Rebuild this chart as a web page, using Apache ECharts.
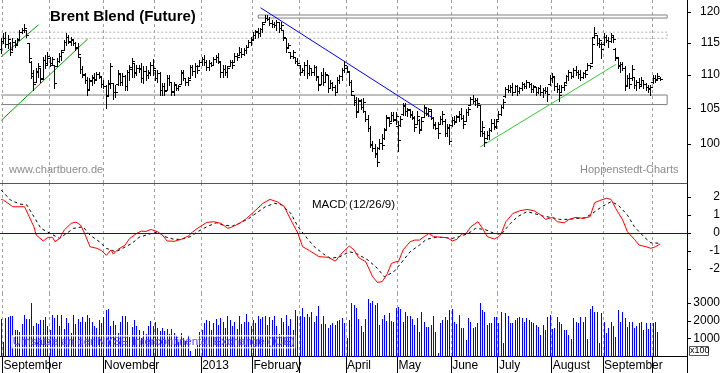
<!DOCTYPE html>
<html><head><meta charset="utf-8">
<script src="https://cdn.jsdelivr.net/npm/echarts@6/dist/echarts.min.js"></script>
<style>html,body{margin:0;padding:0;background:#fff}#c{width:723px;height:373px}</style>
</head><body><div id="c"></div>
<script>
// ---------- calendar ----------
const firstDay = '2012-08-31';
const lastAxisDay = '2013-10-21';
const holidays = ['2012-12-25', '2013-01-01', '2013-03-29'];
const labelMonths = ['2012-09', '2012-11', '2013-01', '2013-02', '2013-04', '2013-05', '2013-06', '2013-07', '2013-08', '2013-09'];
const monthNames = ['January', 'February', 'March', 'April', 'May', 'June', 'July', 'August', 'September', 'October', 'November', 'December'];

// ---------- axis ticks ----------
const priceTicks = [100, 105, 110, 115, 120];
const macdTicks = [-2, -1, 0, 1, 2];
const volumeTicks = [1000, 2000, 3000];

// ---------- daily OHLC (USD) ----------
const open = [
114.0,115.3,115.8,114.8,115.0,114.0,115.2,114.8,115.6,116.8,
117.0,117.1,115.0,112.0,109.8,108.9,110.5,111.1,109.6,112.3,
111.8,112.6,111.8,111.5,111.3,112.2,112.9,113.9,115.2,115.9,
115.2,115.4,115.0,114.4,112.8,110.9,110.0,109.3,107.9,109.1,
109.6,109.4,110.2,109.7,108.6,108.3,106.9,108.6,108.8,107.4,
108.6,110.2,109.0,109.8,108.3,110.4,110.9,111.8,110.4,111.1,
111.0,109.5,110.6,110.0,110.3,111.6,110.8,109.6,110.3,107.8,
108.4,107.8,109.6,109.0,107.5,108.5,108.1,108.6,110.3,109.6,
108.9,109.5,111.2,110.6,111.3,111.3,112.0,112.5,112.0,111.2,
111.8,111.6,112.4,112.7,112.0,110.4,110.9,110.5,111.3,112.0,
112.05,113.0,113.1,113.6,113.2,113.8,114.4,115.2,115.6,116.3,
116.8,116.6,117.2,118.35,119.0,118.9,118.2,118.0,117.8,118.3,
117.3,117.1,115.8,114.3,113.6,113.0,112.8,112.2,111.5,110.5,
110.8,111.5,110.3,111.0,110.4,111.2,109.7,108.6,110.0,109.0,
110.0,108.1,108.8,108.2,107.5,109.3,109.8,110.7,111.1,110.5,
108.9,107.0,106.2,104.6,106.1,105.2,104.6,103.5,102.2,99.9,
99.4,98.8,99.4,100.2,100.8,102.05,103.7,103.2,104.1,103.5,
102.5,102.6,104.2,105.4,104.6,104.8,104.2,103.7,102.75,103.4,
102.05,103.8,105.1,104.4,104.7,103.7,102.8,102.3,102.8,103.5,
103.3,101.6,102.3,102.6,103.4,103.2,103.8,104.2,103.7,103.2,
104.5,105.6,106.4,106.1,106.3,105.6,101.8,101.5,100.9,101.2,
102.0,103.0,102.5,103.5,104.3,105.3,106.8,107.9,107.7,108.2,
107.5,108.3,107.6,108.0,108.6,108.4,109.0,108.6,107.9,108.2,
107.5,108.0,107.4,107.8,107.6,108.6,109.6,109.7,108.3,107.9,
107.5,108.2,108.9,109.8,110.4,109.9,110.8,110.5,110.2,109.7,
110.3,110.8,111.5,111.9,115.9,116.2,115.0,114.8,114.8,115.9,
115.5,115.3,116.0,114.0,112.6,111.5,111.7,111.0,108.55,109.5,
109.6,109.7,108.5,108.9,108.6,109.3,108.6,108.2,108.0,108.9,
109.6,109.4,109.6];
const high = [
115.8,116.6,116.7,116.3,115.2,115.8,115.5,115.8,117.1,117.4,
118.0,117.1,115.0,112.1,110.8,111.0,111.9,111.1,112.8,113.1,
113.6,112.8,112.8,111.6,112.6,113.4,113.9,115.5,116.6,116.3,
115.95,115.5,115.2,115.0,112.8,111.3,110.35,109.75,109.6,110.05,
110.35,110.5,110.5,109.75,109.3,108.55,109.3,111.9,108.85,108.55,
110.8,110.35,110.35,110.05,110.8,111.6,112.65,111.9,111.6,111.6,
111.9,111.3,111.3,110.8,112.05,112.5,110.8,110.8,110.5,108.85,
108.85,110.05,110.05,109.0,109.0,108.55,108.55,110.8,110.8,109.6,
109.75,111.6,111.6,111.9,111.6,112.35,112.8,113.1,112.35,112.35,
112.05,112.8,113.1,113.4,112.05,111.6,111.6,111.3,112.35,112.35,
113.4,113.4,114.4,114.2,114.2,114.7,115.5,115.95,116.75,117.1,
117.4,117.4,118.35,119.5,119.5,119.2,118.7,118.35,118.7,118.35,
118.35,117.1,115.8,115.0,113.6,113.9,112.8,112.65,111.6,111.1,
112.05,112.35,111.6,111.1,111.6,111.3,109.75,110.5,111.1,110.5,
110.05,109.3,109.0,108.55,109.75,110.05,111.1,112.2,111.3,110.5,
109.3,107.05,106.75,106.6,106.35,106.6,104.6,104.15,102.5,100.4,
99.95,99.55,100.65,101.35,102.3,104.15,103.75,104.45,104.45,104.45,
103.2,103.9,105.9,105.9,105.15,104.9,104.6,103.9,104.6,103.45,
103.75,105.6,105.3,105.15,104.9,103.75,103.05,103.05,103.9,104.6,
103.45,102.75,102.75,103.75,103.9,104.15,104.6,105.15,104.15,104.9,
105.3,106.75,107.05,106.6,106.6,105.6,103.2,101.75,101.75,102.3,
103.45,103.45,103.45,104.6,105.6,106.35,108.25,108.55,108.55,108.85,
108.55,108.55,108.25,109.0,108.85,109.3,109.0,108.85,108.55,108.25,
108.25,108.55,108.1,108.25,108.25,110.05,110.35,109.75,108.85,108.55,
108.55,108.85,110.05,110.8,110.5,111.1,111.3,110.8,110.8,110.5,
110.8,111.9,111.6,115.8,117.5,116.3,115.8,115.2,116.6,116.3,
115.95,116.6,116.3,114.2,112.8,112.05,112.05,111.3,110.05,110.35,
111.6,109.75,109.3,109.6,109.75,109.3,108.85,108.55,108.55,110.05,
110.05,110.35,109.75];
const low = [
113.4,115.0,114.4,114.2,113.1,113.9,114.4,114.7,115.5,116.6,
116.7,115.9,112.0,109.6,107.8,108.9,109.7,109.0,109.4,111.1,
111.5,111.3,111.6,108.1,111.3,112.0,112.3,113.9,114.7,115.0,
114.7,114.7,113.9,112.8,110.35,109.75,108.85,107.05,107.9,108.55,
108.85,109.3,109.6,108.25,108.1,105.15,106.9,108.1,106.35,106.75,
108.55,108.55,108.55,107.8,107.8,109.3,109.75,109.75,110.05,110.5,
109.0,108.85,109.3,109.6,110.05,110.05,109.3,109.0,107.05,107.05,
107.05,107.8,108.55,107.05,107.05,107.8,107.8,108.6,109.3,108.55,
108.55,109.5,110.05,109.75,110.35,111.3,111.6,111.6,110.8,110.8,
111.3,111.6,112.05,111.9,109.75,109.75,110.05,109.75,111.3,111.1,
112.05,112.35,113.1,112.8,113.1,113.4,114.4,114.7,115.5,115.8,
115.95,116.1,116.75,118.35,118.7,117.9,117.55,117.55,117.1,116.75,
117.1,115.5,113.6,114.2,112.65,112.65,111.9,111.6,110.05,110.5,
110.05,109.6,110.05,110.05,110.05,109.3,107.8,108.6,108.55,109.0,
107.5,108.1,107.8,107.05,107.5,108.85,109.3,110.5,110.5,108.55,
107.05,105.6,103.75,104.6,104.9,104.45,103.2,101.75,99.55,99.0,
98.2,97.0,99.3,99.3,100.65,102.05,102.5,103.2,103.2,102.75,
99.0,102.5,104.15,104.15,103.9,103.75,103.45,101.75,102.75,101.6,
102.05,103.75,104.15,103.9,103.45,102.3,102.05,100.9,102.75,102.75,
101.05,101.05,99.95,102.5,102.75,103.05,103.2,103.45,102.3,103.2,
104.15,105.6,105.9,105.6,105.3,101.05,101.05,99.7,100.65,100.65,
101.75,102.05,102.3,103.45,104.15,105.15,106.75,107.5,107.5,107.05,
107.5,107.05,107.35,107.8,108.1,108.1,108.25,107.5,107.5,107.05,
107.35,107.05,106.75,107.35,106.05,108.55,109.0,107.8,107.5,106.05,
107.5,107.8,108.85,109.3,109.6,109.75,110.05,109.6,109.3,109.6,
109.75,110.8,111.1,111.9,115.8,114.7,114.4,112.65,114.7,115.2,
114.4,115.2,115.2,112.35,111.1,110.5,110.8,107.8,108.55,108.1,
109.3,108.1,107.8,108.1,108.55,108.1,107.8,107.5,107.05,108.85,
109.0,109.3,109.3];
const close = [
115.3,115.8,114.8,115.6,113.6,115.2,114.7,115.5,116.8,117.0,
117.4,116.2,112.6,110.3,108.6,110.6,111.4,109.4,112.3,111.5,
113.0,111.6,112.4,108.8,112.2,113.0,113.5,115.1,115.9,115.3,
115.6,115.0,114.2,113.3,110.9,110.2,109.2,107.8,109.2,109.7,
109.3,110.2,109.8,108.7,108.4,107.0,108.8,111.4,107.4,107.5,
110.3,109.0,109.8,108.3,110.4,111.2,112.2,110.3,111.1,110.9,
109.6,110.6,110.0,110.4,111.6,111.0,109.6,110.3,107.8,108.3,
107.6,109.6,108.9,107.6,108.7,108.1,108.4,110.4,109.6,108.9,
109.3,111.2,110.6,111.3,110.8,112.0,112.5,112.0,111.2,111.9,
111.6,112.4,112.7,112.1,110.4,110.9,110.5,111.0,112.0,111.5,
113.0,112.8,113.6,113.2,113.8,114.3,115.2,115.5,116.3,116.9,
116.6,117.2,118.0,119.0,118.9,118.2,118.0,117.8,118.3,117.3,
117.9,116.0,114.2,114.6,113.0,113.6,112.2,111.8,110.4,110.8,
111.5,110.3,111.0,110.4,111.2,109.8,108.5,110.0,109.0,110.1,
108.0,108.8,108.2,107.4,109.3,109.8,110.7,111.6,110.6,109.0,
107.6,106.0,104.5,106.2,105.2,106.0,103.5,102.2,100.0,99.4,
98.6,97.6,100.2,99.8,101.9,103.8,102.9,104.1,103.4,104.0,
100.5,103.5,105.6,104.6,104.9,104.1,103.8,102.4,104.0,102.0,
103.3,105.2,104.4,104.9,103.7,102.7,102.3,101.5,103.5,104.2,
101.6,102.4,100.4,103.4,103.1,103.9,104.2,103.7,102.8,104.5,
105.0,106.4,106.1,106.3,105.8,101.8,102.4,100.3,101.3,101.9,
103.0,102.4,103.2,104.3,105.3,106.0,107.9,107.7,108.2,107.4,
108.3,107.6,108.1,108.6,108.4,109.0,108.6,107.9,108.3,107.5,
108.0,107.4,107.8,107.6,107.1,109.6,109.9,108.3,107.9,107.0,
108.2,108.5,109.8,110.4,109.9,110.8,110.5,110.2,109.7,110.3,
110.1,111.6,111.3,114.8,116.6,115.0,115.5,114.0,116.0,115.5,
115.3,116.2,115.6,112.7,111.4,111.7,111.0,108.4,109.5,108.6,
110.9,108.5,108.9,108.3,109.3,108.6,108.2,107.9,108.2,109.6,
109.3,109.9,109.4];

// ---------- daily volume (x100 contracts) ----------
const volume = [
2130,830,2150,2240,2270,2270,1490,1490,1400,1800,
2330,2130,2130,2990,1700,1900,1850,2050,2050,2240,
1700,1490,2350,2150,2350,1700,2350,1550,2150,1900,
1300,2350,1800,2100,1950,2240,1950,2330,2150,1950,
1700,1600,2050,1900,2240,2620,2650,1700,2000,1750,
1300,1950,2300,2300,1950,1100,1650,2050,1700,1500,
1050,1450,1250,1700,2000,1700,1950,1600,1450,1600,
1450,1550,1250,1550,1300,1150,800,1300,1050,850,
1200,300,null,400,650,1400,1500,1900,2050,2000,
1500,1900,2100,1750,2150,1950,1600,2300,2050,1700,
1950,1550,2250,1800,1950,2400,1950,1700,2050,1900,
2300,2100,2200,2300,1750,2200,2050,2250,1700,1250,
2150,1950,2350,1700,2100,1500,2600,2250,2300,2700,
2200,2400,2200,2500,1950,2250,2850,1850,2300,1850,
1600,1770,1870,1770,2000,2050,2150,1870,1020,2050,
2990,2900,2710,2100,1710,1400,2100,3250,2990,3130,
2900,3030,1770,2100,2330,2000,2430,2000,1950,2750,
2800,2650,1950,2520,2270,2270,2100,1770,2150,1400,
2480,1920,1670,1670,1750,2270,1400,180,1900,2050,
2240,2050,2610,2650,1950,1800,2330,1580,1580,930,
2150,1950,1580,1670,1870,2990,2610,2520,1770,1900,
1870,2240,2240,1870,2480,740,2430,2270,1900,1900,
2050,2150,2240,2150,1950,2150,2050,1950,1900,1770,
1670,1200,1770,1490,2240,2330,1530,1580,2240,1950,
1800,1490,1490,1200,960,2150,1950,1900,2240,1950,
2240,960,2650,2840,2520,2480,780,2430,1950,1300,
1580,1950,1710,1110,2610,1950,2480,2150,1670,1950,
1950,1580,1710,1870,1950,1490,1870,1530,1900,1870,
1950,1400,null];

// ---------- MACD (12/26/9): [trading-day index, value] ----------
const macd = [[0,1.87],[1,1.83],[5,1.46],[10,1.46],[12,0.91],[14,0.35],[15,-0.11],[18,-0.44],[20,-0.24],[22,-0.24],[23,-0.48],[25,-0.30],[27,0.17],[30,0.54],[32,0.61],[34,0.44],[36,-0.11],[38,-0.76],[41,-0.85],[43,-0.98],[45,-1.24],[47,-0.94],[48,-1.17],[50,-0.91],[53,-0.67],[55,-0.30],[58,-0.02],[60,0.11],[62,0.09],[64,0.20],[67,0.07],[69,-0.11],[71,-0.44],[74,-0.46],[77,-0.35],[80,-0.17],[82,0.07],[85,0.35],[88,0.59],[91,0.63],[94,0.54],[97,0.26],[99,0.35],[102,0.54],[105,0.81],[109,1.28],[112,1.65],[115,1.87],[118,1.74],[121,1.50],[124,0.72],[127,-0.02],[129,-0.76],[132,-0.98],[136,-1.31],[140,-1.35],[143,-1.56],[146,-1.09],[149,-0.72],[151,-0.94],[153,-1.37],[156,-1.59],[159,-2.43],[161,-2.74],[163,-2.70],[165,-2.33],[167,-1.69],[169,-1.59],[170,-1.59],[172,-0.94],[175,-0.48],[177,-0.39],[179,-0.39],[181,-0.20],[183,-0.02],[185,-0.20],[189,-0.24],[191,-0.26],[193,-0.44],[195,-0.35],[197,-0.06],[199,-0.02],[201,0.35],[204,0.63],[206,0.26],[208,-0.20],[211,-0.33],[213,-0.20],[214,-0.02],[216,0.63],[219,1.09],[222,1.24],[225,1.31],[228,1.24],[231,1.00],[233,0.76],[236,0.87],[238,0.63],[241,0.57],[243,0.76],[246,0.87],[249,0.81],[252,0.91],[254,1.69],[256,1.80],[259,1.93],[261,1.87],[263,1.37],[266,0.72],[268,0.07],[271,-0.35],[273,-0.67],[276,-0.76],[278,-0.85],[280,-0.76],[282,-0.61]];
const signal = [[0,2.39],[4,1.83],[8,1.61],[11,1.56],[14,0.91],[17,0.26],[21,-0.02],[25,-0.30],[27,-0.11],[31,0.26],[35,0.35],[38,-0.11],[42,-0.48],[45,-0.85],[49,-1.04],[52,-0.85],[56,-0.57],[59,-0.24],[63,-0.07],[67,0.07],[70,-0.20],[74,-0.35],[77,-0.35],[81,-0.20],[84,0.07],[88,0.35],[92,0.57],[95,0.44],[99,0.39],[102,0.54],[106,0.81],[109,1.09],[113,1.46],[117,1.65],[120,1.56],[124,1.09],[127,0.35],[131,-0.30],[134,-0.76],[138,-1.17],[141,-1.41],[145,-1.31],[149,-1.04],[152,-1.13],[157,-1.50],[161,-1.96],[164,-2.43],[168,-2.15],[171,-1.69],[175,-1.04],[179,-0.67],[182,-0.35],[186,-0.24],[189,-0.24],[193,-0.30],[196,-0.20],[200,-0.02],[203,0.26],[207,0.20],[211,-0.02],[214,-0.07],[218,0.54],[221,0.91],[225,1.19],[228,1.09],[232,0.94],[236,0.85],[239,0.76],[243,0.76],[246,0.81],[250,0.85],[253,1.09],[257,1.46],[261,1.74],[264,1.56],[268,1.00],[271,0.35],[275,-0.20],[278,-0.54],[282,-0.57]];

// ---------- drawn annotations (price space) ----------
const bandTop = [[110, 119.5], [285, 119.5], [285, 119.0], [110, 119.0], [110, 119.5]];
const bandMid = [[0, 116.7], [285, 116.7], [285, 115.7], [0, 115.7]];
const bandLow = [[0, 107.0], [285, 107.0], [285, 105.6], [0, 105.6]];
const trendGreenA = [[0, 112.8], [16, 117.9]];
const trendGreenB = [[0, 103.3], [37, 115.6]];
const trendBlue = [[111, 120.7], [185, 103.6]];
const trendUp = [[205, 99.6], [263, 111.6]];

// ---------- build ----------
function tradingDays(from, to) {
  const out = [];
  const d = new Date(from + 'T00:00:00Z');
  const end = new Date(to + 'T00:00:00Z');
  while (d <= end) {
    const wd = d.getUTCDay();
    const s = d.toISOString().slice(0, 10);
    if (wd !== 0 && wd !== 6 && holidays.indexOf(s) < 0) out.push(s);
    d.setUTCDate(d.getUTCDate() + 1);
  }
  return out;
}
const days = tradingDays(firstDay, lastAxisDay);
const isMonthStart = days.map((s, i) => i > 0 && s.slice(0, 7) !== days[i - 1].slice(0, 7));
const isLabel = days.map((s, i) => isMonthStart[i] && labelMonths.indexOf(s.slice(0, 7)) >= 0);
const monthFmt = v => { const m = +v.slice(5, 7) - 1; return m === 0 ? v.slice(0, 4) : monthNames[m]; };

const ohlc = close.map((c, i) => [i, open[i], high[i], low[i], c]);
const vol = volume.map((v, i) => [i, v]).filter(r => r[1] != null);

const FONT = '"Liberation Sans", Arial, sans-serif';
const grids = [
  { left: 0, right: 36, top: 0, height: 183 },
  { left: 0, right: 36, top: 183, height: 110 },
  { left: 0, right: 36, top: 293, height: 63.5 }
].map(g => Object.assign(g, { containLabel: false, outerBoundsMode: 'none' }));

const gridDash = { show: true, interval: (i) => isMonthStart[i], lineStyle: { color: '#a0a0a0', type: [3, 3], width: 1 } };
function xAx(gi, lineColor, bottom) {
  return {
    type: 'category', gridIndex: gi, data: days, boundaryGap: true,
    axisLine: { show: true, lineStyle: { color: lineColor, width: 1 } },
    axisTick: bottom ? { show: true, interval: (i) => isMonthStart[i], length: 17, lineStyle: { color: '#000' } } : { show: false },
    axisLabel: bottom ? { show: true, interval: (i) => isLabel[i], formatter: monthFmt, align: 'left', margin: 3, fontSize: 12, color: '#000', fontFamily: FONT } : { show: false },
    splitLine: gridDash
  };
}
function yLabels(gi, min, max, ticks, fmt) {
  return {
    type: 'value', gridIndex: gi, position: 'right', min: min, max: max,
    axisLine: { show: true, lineStyle: { color: '#000' } },
    axisTick: { show: true, customValues: ticks, length: 4, lineStyle: { color: '#000' } },
    axisLabel: { show: true, customValues: ticks, align: 'right', margin: 33, fontSize: 12, color: '#000', fontFamily: FONT, formatter: fmt },
    splitLine: { show: false }
  };
}

function renderOHLC(params, api) {
  const i = api.value(0);
  const po = api.coord([i, api.value(1)]);
  const ph = api.coord([i, api.value(2)]);
  const pl = api.coord([i, api.value(3)]);
  const pc = api.coord([i, api.value(4)]);
  const x = Math.round(ph[0] - 0.5);
  const yh = Math.round(ph[1]), yl = Math.round(pl[1]);
  const st = { fill: '#000' };
  return { type: 'group', children: [
    { type: 'rect', shape: { x: x, y: yh, width: 1, height: Math.max(1, yl - yh + 1) }, style: st },
    { type: 'rect', shape: { x: x - 2, y: Math.round(po[1]), width: 2, height: 1 }, style: st },
    { type: 'rect', shape: { x: x + 1, y: Math.round(pc[1]), width: 2, height: 1 }, style: st }
  ] };
}
function renderVol(params, api) {
  const i = api.value(0);
  const p = api.coord([i, api.value(1)]);
  const b = api.coord([i, 0]);
  const x = Math.round(p[0] - 0.5);
  const yt = Math.round(p[1]);
  return { type: 'rect', shape: { x: x, y: yt, width: 1, height: Math.round(b[1]) - yt }, style: { fill: '#0000ff' } };
}
function seg(data, color, type) {
  return { type: 'line', xAxisIndex: 0, yAxisIndex: 0, data: data, symbol: 'none', silent: true, z: 3,
    lineStyle: { color: color, width: 1, type: type || 'solid' }, animation: false };
}

const option = {
  animation: false,
  backgroundColor: '#fff',
  textStyle: { fontFamily: FONT },
  grid: grids,
  xAxis: [xAx(0, '#555', false), xAx(1, '#000', false), xAx(2, '#000', true)],
  yAxis: [
    { type: 'log', gridIndex: 0, position: 'right', min: 94.76, max: 122.0,
      axisLine: { show: true, lineStyle: { color: '#000' } }, axisTick: { show: false }, axisLabel: { show: false }, splitLine: { show: false } },
    yLabels(0, Math.log(94.76), Math.log(122.0), priceTicks.map(Math.log), v => String(Math.round(Math.exp(v)))),
    yLabels(1, -3.33, 2.78, macdTicks, v => String(v)),
    yLabels(2, 0, 3570, volumeTicks, v => String(v))
  ],
  series: [
    seg(bandTop, '#808080'),
    seg(bandMid, '#b4b4b4', [2, 2]),
    seg(bandLow, '#808080'),
    seg(trendGreenA, '#00a000'),
    seg(trendGreenB, '#00a000'),
    seg(trendBlue, '#0000ff'),
    seg(trendUp, '#33cc33'),
    { type: 'custom', xAxisIndex: 0, yAxisIndex: 0, renderItem: renderOHLC, data: ohlc, encode: { x: 0, y: [1, 2, 3, 4] }, z: 4, silent: true },
    { type: 'line', xAxisIndex: 1, yAxisIndex: 2, data: signal, symbol: 'none', silent: true,
      lineStyle: { color: '#000', width: 1, type: [3, 3] }, z: 3 },
    { type: 'line', xAxisIndex: 1, yAxisIndex: 2, data: macd, symbol: 'none', silent: true,
      lineStyle: { color: '#ff0000', width: 1 }, z: 4,
      markLine: { silent: true, symbol: 'none', label: { show: false }, lineStyle: { color: '#0000ff', type: 'solid', width: 1 }, data: [{ yAxis: 0 }] } },
    { type: 'custom', xAxisIndex: 2, yAxisIndex: 3, renderItem: renderVol, data: vol, encode: { x: 0, y: 1 }, z: 2, silent: true }
  ],
  graphic: [
    { type: 'text', left: 50, top: 9, z: 10, style: { text: 'Brent Blend (Future)', font: 'bold 15px ' + FONT, fill: '#000' } },
    { type: 'text', left: 9, top: 164, z: 10, style: { text: 'www.chartbuero.de', font: '11px ' + FONT, fill: '#8c8c8c' } },
    { type: 'text', left: 580, top: 164, z: 10, style: { text: 'Hoppenstedt-Charts', font: '11px ' + FONT, fill: '#8c8c8c' } },
    { type: 'text', left: 312, top: 199, z: 10, style: { text: 'MACD (12/26/9)', font: '11.5px ' + FONT, fill: '#000' } },
    { type: 'text', left: 12, top: 335, z: 10, style: { text: 'Umsätze an der NYSE Intercontinental Exchange (ICE)', font: '11.5px ' + FONT, fill: '#5a46ff', textBorderColor: 'rgba(255,255,255,0.85)', textBorderWidth: 1.5 } },
    { type: 'rect', left: 689, top: 346, z: 10, shape: { width: 19, height: 9 }, style: { fill: '#fff', stroke: '#555', lineWidth: 1 } },
    { type: 'text', left: 690, top: 346, z: 11, style: { text: 'x100', font: '9px ' + FONT, fill: '#000' } }
  ]
};
const chart = echarts.init(document.getElementById('c'), null, { renderer: 'canvas' });
chart.setOption(option);
</script>
</body></html>
